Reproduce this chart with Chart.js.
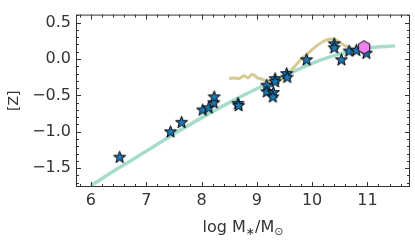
<!DOCTYPE html>
<html lang="en">
<head>
    <meta charset="UTF-8">
    <title>[Z] vs stellar mass</title>
    <script src="https://cdn.jsdelivr.net/npm/chart.js"></script>
    <style>
        body { margin: 0; background: #fff; }
    </style>
</head>
<body>
    <canvas id="grafico" width="415" height="242"></canvas>

<script>
    // galaxies (stars)
    const starMass = [6.52, 7.44, 7.64, 8.02, 8.13, 8.22, 8.23, 8.66, 8.67, 9.18, 9.18, 9.30, 9.29, 9.33, 9.33, 9.54, 9.55, 9.90, 10.40, 10.40, 10.53, 10.67, 10.80, 10.98];
    const starZ    = [-1.35, -1.00, -0.87, -0.70, -0.67, -0.60, -0.52, -0.61, -0.64, -0.36, -0.45, -0.46, -0.52, -0.27, -0.31, -0.20, -0.25, -0.01, 0.21, 0.155, -0.01, 0.11, 0.12, 0.08];

    // hexagon point
    const hexMass = [10.94];
    const hexZ    = [0.16];

    // teal relation
    const fitMass = [6.0, 6.5, 7.0, 7.5, 8.0, 8.5, 9.0, 9.5, 10.0, 10.5, 11.0, 11.5];
    const fitZ    = [-1.74, -1.50, -1.27, -1.03, -0.81, -0.60, -0.41, -0.23, -0.06, 0.07, 0.15, 0.18];

    // tan curve
    const simMass = [8.50, 8.59, 8.68, 8.77, 8.84, 8.92, 9.01, 9.10, 9.20, 9.30, 9.40, 9.50, 9.60, 9.70, 9.80, 9.90, 10.00, 10.10, 10.20, 10.30, 10.40, 10.50, 10.60, 10.70, 10.80];
    const simZ    = [-0.27, -0.26, -0.27, -0.23, -0.26, -0.21, -0.26, -0.28, -0.31, -0.32, -0.30, -0.25, -0.17, -0.09, 0.00, 0.06, 0.13, 0.19, 0.24, 0.27, 0.27, 0.23, 0.18, 0.15, 0.14];

    const xTicks = [6, 7, 8, 9, 10, 11];
    const yTicks = [-1.5, -1.0, -0.5, 0.0, 0.5];

    const pares = (xs, ys) => xs.map((x, i) => ({ x: x, y: ys[i] }));

    // marcador estrela preenchida
    function criarEstrela() {
        const c = document.createElement('canvas');
        c.width = 15; c.height = 15;
        const ctx = c.getContext('2d');
        ctx.beginPath();
        for (let i = 0; i < 10; i++) {
            const r = i % 2 === 0 ? 6.3 : 2.6;
            const a = -Math.PI / 2 + i * Math.PI / 5;
            const px = 7.5 + r * Math.cos(a), py = 7.8 + r * Math.sin(a);
            if (i === 0) ctx.moveTo(px, py); else ctx.lineTo(px, py);
        }
        ctx.closePath();
        ctx.fillStyle = '#1f77b4';
        ctx.fill();
        ctx.lineWidth = 1;
        ctx.strokeStyle = '#000';
        ctx.stroke();
        return c;
    }

    // marcador hexagono
    function criarHexagono() {
        const c = document.createElement('canvas');
        c.width = 16; c.height = 16;
        const ctx = c.getContext('2d');
        ctx.beginPath();
        for (let i = 0; i < 6; i++) {
            const a = -Math.PI / 2 + i * Math.PI / 3;
            const px = 8 + 6.6 * Math.cos(a), py = 8 + 6.6 * Math.sin(a);
            if (i === 0) ctx.moveTo(px, py); else ctx.lineTo(px, py);
        }
        ctx.closePath();
        ctx.fillStyle = '#ee82ee';
        ctx.fill();
        ctx.lineWidth = 1;
        ctx.strokeStyle = '#000';
        ctx.stroke();
        return c;
    }

    const corEixo = '#333333';
    const corTexto = '#333333';

    // ticks para dentro nos quatro lados + moldura + titulo do eixo x
    const molduraPlugin = {
        id: 'moldura',
        afterDraw(chart) {
            const ctx = chart.ctx;
            const a = chart.chartArea;
            const xs = chart.scales.x, ys = chart.scales.y;
            ctx.save();
            ctx.strokeStyle = corEixo;
            ctx.lineWidth = 1;
            ctx.strokeRect(a.left + 0.5, a.top + 0.5, a.right - a.left - 1, a.bottom - a.top - 1);

            ctx.beginPath();
            for (let k = 29; k <= 58; k++) {
                const v = k / 5;
                if (v < xs.min || v > xs.max) continue;
                const len = (k % 5 === 0) ? 5 : 3;
                const px = Math.round(xs.getPixelForValue(v)) + 0.5;
                ctx.moveTo(px, a.bottom); ctx.lineTo(px, a.bottom - len);
                ctx.moveTo(px, a.top); ctx.lineTo(px, a.top + len);
            }
            for (let k = -18; k <= 6; k++) {
                const v = k / 10;
                if (v < ys.min || v > ys.max) continue;
                const len = (k % 5 === 0) ? 5 : 3;
                const py = Math.round(ys.getPixelForValue(v)) + 0.5;
                ctx.moveTo(a.left, py); ctx.lineTo(a.left + len, py);
                ctx.moveTo(a.right, py); ctx.lineTo(a.right - len, py);
            }
            ctx.stroke();

            // titulo x com subscritos
            const grande = '16px "DejaVu Sans"', pequeno = '11px "DejaVu Sans"';
            const partes = [
                { t: 'log M', f: grande, dy: 0 },
                { t: '\u2217', f: pequeno, dy: 3 },
                { t: '/M', f: grande, dy: 0 },
                { t: '\u2299', f: pequeno, dy: 3 }
            ];
            let total = 0;
            partes.forEach(p => { ctx.font = p.f; p.w = ctx.measureText(p.t).width; total += p.w; });
            let x = (a.left + a.right) / 2 - total / 2;
            const base = 232;
            ctx.fillStyle = corTexto;
            ctx.textBaseline = 'alphabetic';
            ctx.textAlign = 'left';
            partes.forEach(p => { ctx.font = p.f; ctx.fillText(p.t, x, base + p.dy); x += p.w; });
            ctx.restore();
        }
    };

    const config = {
        type: 'scatter',
        data: {
            datasets: [
                {
                    label: 'hex',
                    data: pares(hexMass, hexZ),
                    pointStyle: criarHexagono(),
                    order: 1
                },
                {
                    label: 'galaxias',
                    data: pares(starMass, starZ),
                    pointStyle: criarEstrela(),
                    order: 2
                },
                {
                    label: 'sim',
                    type: 'line',
                    data: pares(simMass, simZ),
                    borderColor: '#d5c994',
                    borderWidth: 3,
                    pointRadius: 0,
                    tension: 0.3,
                    fill: false,
                    order: 3
                },
                {
                    label: 'relacao',
                    type: 'line',
                    data: pares(fitMass, fitZ),
                    borderColor: '#a5dccb',
                    borderWidth: 3.5,
                    pointRadius: 0,
                    cubicInterpolationMode: 'monotone',
                    fill: false,
                    order: 4
                }
            ]
        },
        options: {
            responsive: false,
            animation: false,
            devicePixelRatio: 1,
            layout: { padding: { top: 4, right: 4, left: 0, bottom: 0 } },
            plugins: {
                legend: { display: false },
                tooltip: { enabled: false }
            },
            scales: {
                x: {
                    type: 'linear',
                    min: 5.73,
                    max: 11.77,
                    grid: { display: false, drawTicks: false },
                    border: { display: false },
                    ticks: {
                        padding: 4,
                        color: corTexto,
                        font: { family: 'DejaVu Sans', size: 16 },
                        callback: v => String(v)
                    },
                    afterBuildTicks: s => { s.ticks = xTicks.map(v => ({ value: v })); },
                    afterFit: s => { s.height = 55; }
                },
                y: {
                    type: 'linear',
                    min: -1.76,
                    max: 0.61,
                    grid: { display: false, drawTicks: false },
                    border: { display: false },
                    title: {
                        display: true,
                        text: '[Z]',
                        color: corTexto,
                        font: { family: 'DejaVu Sans', size: 14 },
                        padding: { top: 6, bottom: 0 }
                    },
                    ticks: {
                        padding: 5,
                        color: corTexto,
                        font: { family: 'DejaVu Sans', size: 16 },
                        callback: v => (v < 0 ? '\u2212' : '') + Math.abs(v).toFixed(1)
                    },
                    afterBuildTicks: s => { s.ticks = yTicks.map(v => ({ value: v })); },
                    afterFit: s => { s.width = 76; }
                }
            }
        },
        plugins: [molduraPlugin]
    };

    let meuGrafico = new Chart(document.getElementById('grafico'), config);
</script>
</body>
</html>
